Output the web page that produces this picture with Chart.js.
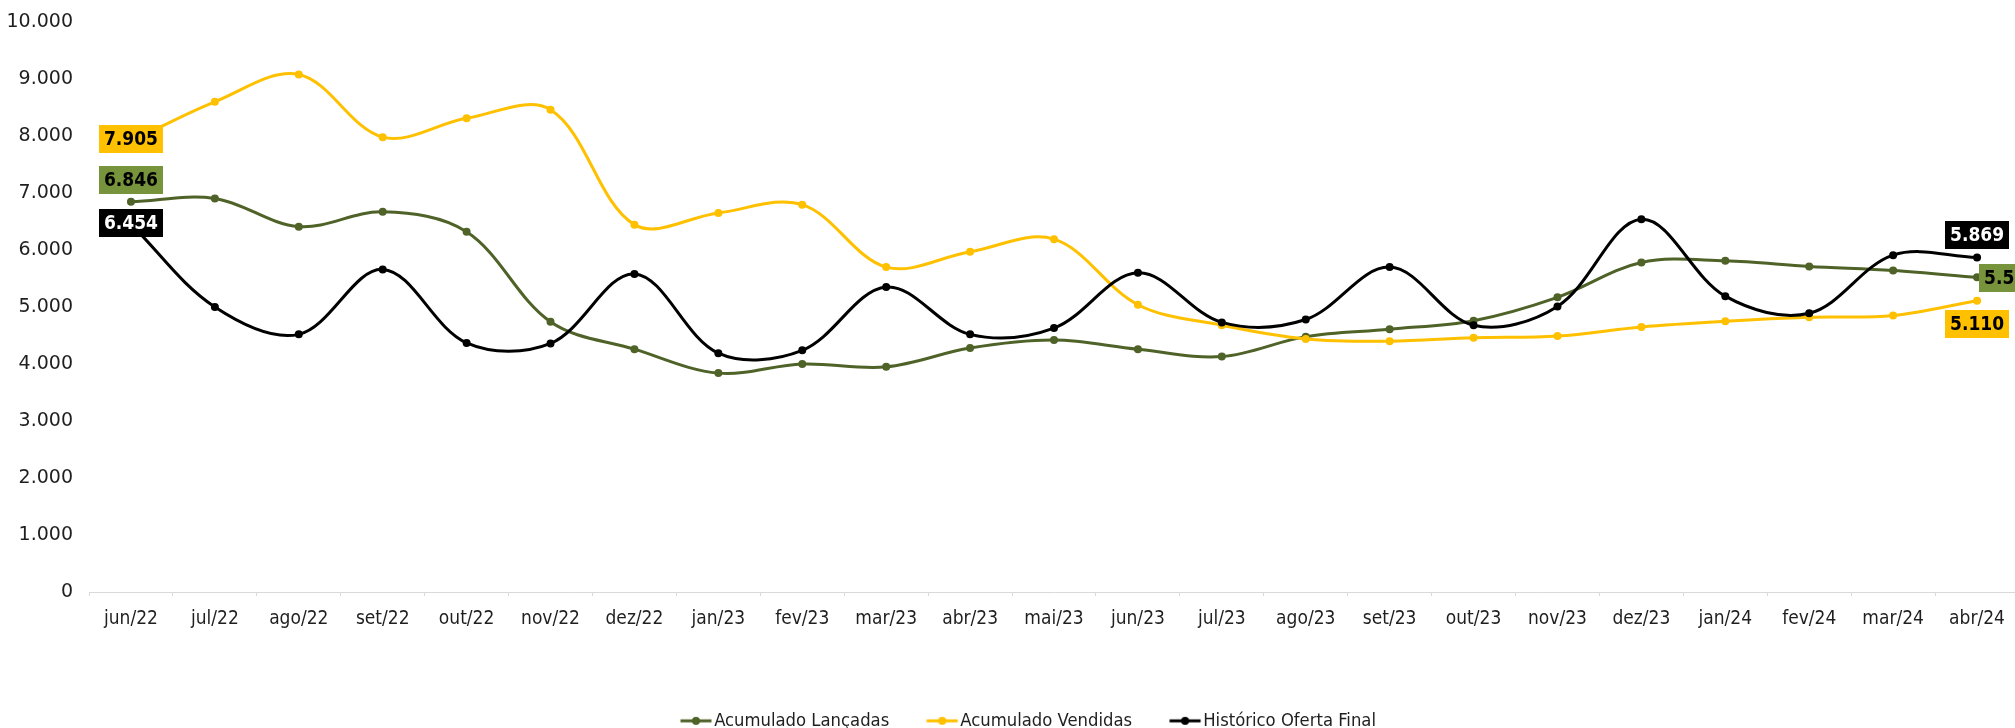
<!DOCTYPE html>
<html>
<head>
<meta charset="utf-8">
<script src="https://cdn.jsdelivr.net/npm/chart.js@4.4.1/dist/chart.umd.min.js"></script>
<style>
html,body{margin:0;padding:0;background:#fff;overflow:hidden;width:2015px;height:728px}
canvas{display:block}
</style>
</head>
<body>
<canvas id="c" width="2019" height="728"></canvas>
<script>
// ---- data ----
const categories = ['jun/22','jul/22','ago/22','set/22','out/22','nov/22','dez/22','jan/23','fev/23','mar/23','abr/23','mai/23','jun/23','jul/23','ago/23','set/23','out/23','nov/23','dez/23','jan/24','fev/24','mar/24','abr/24'];
const acumuladoLancadas = [6846,6905,6410,6670,6320,4740,4260,3840,4000,3950,4280,4420,4260,4130,4480,4610,4760,5170,5780,5810,5710,5640,5520];
const acumuladoVendidas = [7905,8600,9080,7980,8310,8460,6445,6650,6795,5700,5970,6190,5040,4680,4440,4400,4460,4490,4650,4750,4820,4850,5110];
const historicoOferta   = [6454,5000,4520,5660,4370,4360,5580,4190,4240,5350,4520,4630,5600,4730,4780,5700,4680,5010,6540,5190,4890,5910,5869];
const seriesNames = ['Acumulado Lançadas','Acumulado Vendidas','Histórico Oferta Final'];
const yMin = 0, yMax = 10000, yStep = 1000;

// ---- styles ----
const lineColors = ['#4F6228','#FFC000','#000000'];
const labelFills = ['#77933C','#FFC000','#000000'];
const labelTextColors = ['#000000','#000000','#FFFFFF'];
const textColor = '#1f1f1f';
const condensed = '"DejaVu Sans Condensed", "DejaVu Sans", sans-serif';
const legendFontSize = 18.3, legendPad = 50;

function fmt(n){ return String(n).replace(/\B(?=(\d{3})+(?!\d))/g,'.'); }

function legendIcon(color){
  const c = document.createElement('canvas');
  c.width = 38; c.height = 12;
  const g = c.getContext('2d');
  g.strokeStyle = color; g.lineWidth = 3;
  g.beginPath(); g.moveTo(0.5,6); g.lineTo(31.5,6); g.stroke();
  g.fillStyle = color;
  g.beginPath(); g.arc(16,6,4,0,Math.PI*2); g.fill();
  return c;
}
const icons = lineColors.map(legendIcon);

// label placement relative to point: [datasetIndex, 'first'|'last', mode, dx, dy]
const labelPlacements = [
  [0,'first','center',0,-22],
  [0,'last','right',2,1],
  [1,'first','center',0,-2],
  [1,'last','center',0,23],
  [2,'first','center',0,-1],
  [2,'last','center',0,-22]
];

const dataLabelPlugin = {
  id:'dataLabels',
  afterDatasetsDraw(chart){
    const ctx = chart.ctx;
    ctx.save();
    ctx.font = 'bold 19px ' + condensed;
    ctx.textBaseline = 'middle';
    ctx.textAlign = 'center';
    labelPlacements.forEach(([ds, which, mode, dx, dy]) => {
      const meta = chart.getDatasetMeta(ds);
      const data = chart.data.datasets[ds].data;
      const idx = which === 'first' ? 0 : data.length - 1;
      const pt = meta.data[idx];
      const text = fmt(data[idx]);
      const w = ctx.measureText(text).width + 10;
      const h = 28;
      let cx = pt.x + dx, cy = pt.y + dy;
      if (mode === 'right') cx = pt.x + dx + w/2;
      ctx.fillStyle = labelFills[ds];
      ctx.fillRect(Math.round(cx - w/2), Math.round(cy - h/2), Math.round(w), h);
      ctx.fillStyle = labelTextColors[ds];
      ctx.fillText(text, cx, cy + 1);
    });
    ctx.restore();
  }
};

const legendShift = {
  id:'legendShift',
  afterLayout(chart){
    if (chart.legend){ chart.legend.left += 25; chart.legend.right += 25; }
  }
};

const series = [acumuladoLancadas, acumuladoVendidas, historicoOferta];
const datasets = series.map((d,i) => ({
  label: seriesNames[i],
  data: d,
  borderColor: lineColors[i],
  backgroundColor: lineColors[i],
  pointBackgroundColor: lineColors[i],
  pointBorderColor: lineColors[i],
  borderWidth: 3,
  pointRadius: 4,
  pointBorderWidth: 0,
  tension: 0.35,
  fill: false,
  order: 3 - i
}));

new Chart(document.getElementById('c'), {
  type:'line',
  data:{ labels: categories, datasets },
  plugins:[dataLabelPlugin, legendShift],
  options:{
    responsive:false,
    animation:false,
    devicePixelRatio:1,
    layout:{ autoPadding:false, padding:{ top:22, left:0, right:0, bottom:-12 } },
    plugins:{
      tooltip:{enabled:false},
      legend:{
        position:'bottom',
        labels:{
          usePointStyle:true,
          pointStyleWidth:12,
          padding:legendPad,
          color:textColor,
          font:{ family:condensed, size:legendFontSize },
          sort:(a,b)=>a.datasetIndex-b.datasetIndex,
          generateLabels(chart){
            const items = Chart.defaults.plugins.legend.labels.generateLabels(chart);
            items.forEach(it => { it.pointStyle = icons[it.datasetIndex]; });
            return items;
          }
        }
      }
    },
    scales:{
      x:{
        offset:true,
        grid:{ display:true, offset:true, drawOnChartArea:false, drawTicks:true, tickLength:4, color:'#d9d9d9' },
        border:{ display:true, color:'#d9d9d9', width:1 },
        ticks:{ autoSkip:false, maxRotation:0, minRotation:0, padding:12, color:textColor,
                font:{ family:condensed, size:19 } },
        afterFit(s){ s.height = (740 - (legendFontSize + legendPad + 10)) - 592; }
      },
      y:{
        min:yMin, max:yMax,
        grid:{ display:false, drawTicks:false },
        border:{ display:false },
        ticks:{ stepSize:yStep, padding:16, color:textColor,
                font:{ family:'"DejaVu Sans", Verdana, sans-serif', size:19 },
                callback:(v)=>fmt(v) },
        afterFit(s){ s.width = 89; s.paddingTop = 11; s.paddingBottom = 11; }
      }
    }
  }
});
</script>
</body>
</html>
